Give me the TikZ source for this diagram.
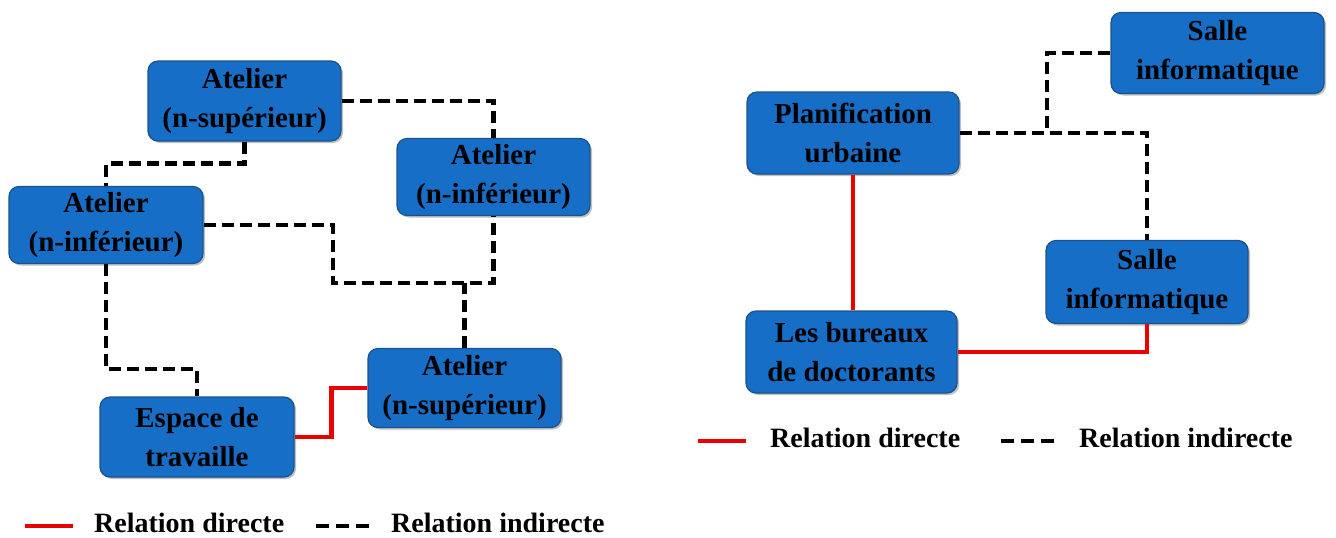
\documentclass[tikz,border=0pt]{standalone}
\usepackage{fontspec}
\setmainfont{Liberation Serif}
\usetikzlibrary{shadows}
\definecolor{boxblue}{RGB}{22,110,198}
\definecolor{boxedge}{RGB}{28,82,140}
\definecolor{dirred}{RGB}{235,0,0}
\begin{document}
\begin{tikzpicture}[x=1pt,y=-1pt,
  stepbox/.style={draw=boxedge, line width=1.2pt, fill=boxblue, rounded corners=10pt,
    align=center, inner sep=0pt, text=black,
    font=\bfseries\fontsize{29}{39}\selectfont,
    drop shadow={shadow xshift=2pt, shadow yshift=-2pt, opacity=0.25, fill=black}},
  direct/.style={draw=dirred, line width=4.5pt},
  indirect/.style={draw=black, line width=4.5pt, dash pattern=on 12pt off 6pt},
  legtext/.style={anchor=west, inner sep=0pt, font=\bfseries\fontsize{28}{34}\selectfont}]
\useasboundingbox (0,0) rectangle (1336,538);

% ---- left network: workshops ----
\node[stepbox, minimum width=193pt, minimum height=80pt] (sup1) at (244.5,101) {Atelier\\(n-supérieur)};
\node[stepbox, minimum width=194pt, minimum height=77pt] (inf1) at (106,225) {Atelier\\(n-inférieur)};
\node[stepbox, minimum width=193pt, minimum height=77pt] (inf2) at (493.5,177) {Atelier\\(n-inférieur)};
\node[stepbox, minimum width=193pt, minimum height=79pt] (sup2) at (464.5,388) {Atelier\\(n-supérieur)};
\node[stepbox, minimum width=194pt, minimum height=80pt] (esp) at (197,437) {Espace de\\travaille};

\coordinate (j1) at (333,283);
\draw[indirect] (sup1.east) -| (inf2.north);
\draw[indirect] (sup1.south) -- ++(0,22) -| (inf1.north);
\draw[indirect] (inf1.east) -| (j1) -| (inf2.south);
\draw[indirect] (sup2.north) -- (sup2.north |- j1);
\draw[indirect] (inf1.south) -- ++(0,105) -| (esp.north);
\draw[direct] (esp.east) -- ++(37,0) |- (sup2.west);

% legend, left
\coordinate (lr1) at (25,526);  \coordinate (lr2) at (73,526);
\coordinate (li1) at (316,526); \coordinate (li2) at (370,526);
\draw[direct] (lr1) -- (lr2);
\node[legtext] (ld) at (94,523) {Relation directe};
\draw[indirect, dash pattern=on 13pt off 7pt] (li1) -- (li2);
\node[legtext] (lind) at (391,523) {Relation indirecte};

% ---- right network: facilities ----
\node[stepbox, minimum width=212pt, minimum height=82pt] (plan) at (853,133) {Planification\\urbaine};
\node[stepbox, minimum width=213pt, minimum height=81pt] (salle1) at (1217.5,53) {Salle\\informatique};
\node[stepbox, minimum width=202pt, minimum height=83pt] (salle2) at (1147,282) {Salle\\informatique};
\node[stepbox, minimum width=211pt, minimum height=82pt] (bur) at (851.5,352) {Les bureaux\\de doctorants};

\coordinate (br) at (1047,133);
\draw[indirect] (plan.east) -| (salle2.north);
\draw[indirect] (salle1.west) -| (br);
\draw[direct] (plan.south) -- (plan.south |- bur.north);
\draw[direct] (bur.east) -| (salle2.south);

% legend, right
\coordinate (rr1) at (698,441);  \coordinate (rr2) at (746,441);
\coordinate (ri1) at (1001,441); \coordinate (ri2) at (1056,441);
\draw[direct] (rr1) -- (rr2);
\node[legtext] (rd) at (770,438) {Relation directe};
\draw[indirect, dash pattern=on 13pt off 7pt] (ri1) -- (ri2);
\node[legtext] (rind) at (1079,438) {Relation indirecte};
\end{tikzpicture}
\end{document}
